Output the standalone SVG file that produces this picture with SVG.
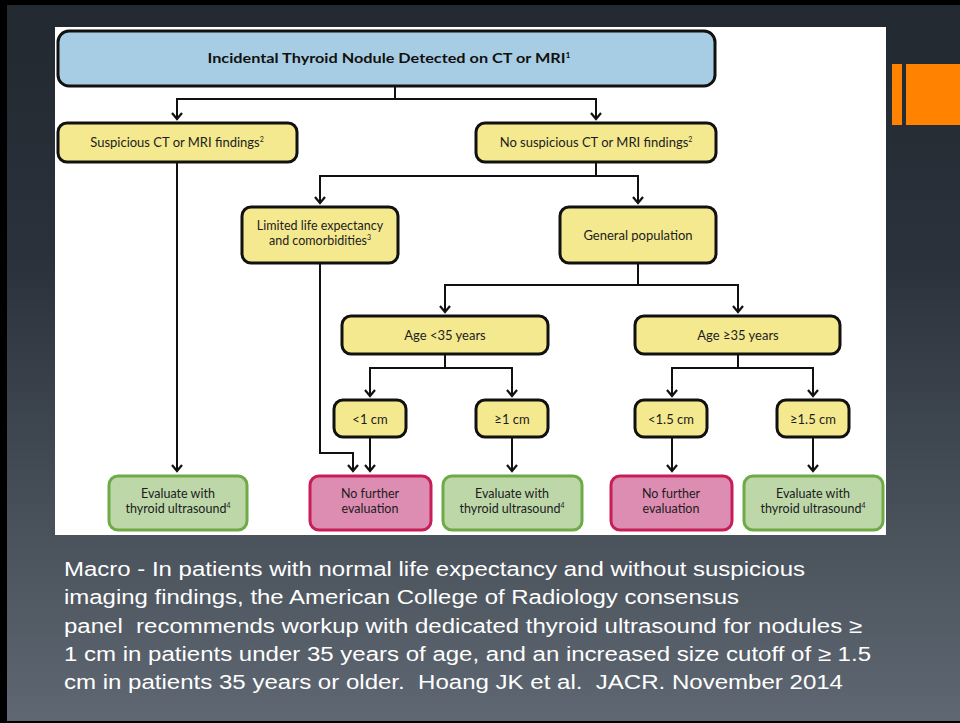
<svg xmlns="http://www.w3.org/2000/svg" width="960" height="723" viewBox="0 0 960 723">
  <defs>
    <linearGradient id="slideBg" x1="0" y1="0" x2="0" y2="1">
      <stop offset="0" stop-color="#222931"/>
      <stop offset="0.35" stop-color="#2a313a"/>
      <stop offset="1" stop-color="#5f6872"/>
    </linearGradient>
    <marker id="chev" markerUnits="userSpaceOnUse" markerWidth="14" markerHeight="10" viewBox="-7 -8 14 10" refX="0" refY="0" orient="auto-start-reverse" overflow="visible">
      <path d="M-5,-6 L0,0 L5,-6" transform="rotate(-90)" fill="none" stroke="#111" stroke-width="2.2" stroke-linejoin="miter"/>
    </marker>
    <style>
      .box { stroke: #111; stroke-width: 3; }
      .blue { fill: #a7cde4; }
      .yellow { fill: #f4e98f; }
      .green { fill: #bdd7a9; stroke: #6eaa45; stroke-width: 3; }
      .pink { fill: #dc8db1; stroke: #c81e58; stroke-width: 3; }
      .lbl { font-family: Lato, "Open Sans", "DejaVu Sans", sans-serif; font-size: 13px; fill: #1c1c1c; text-anchor: middle; }
      .two { font-size: 12.5px; }
      .ttl { font-family: Lato, "Open Sans", "DejaVu Sans", sans-serif; font-size: 13.5px; font-weight: bold; fill: #111; text-anchor: middle; }
      .sup { font-size: 7px; }
      .conn { fill: none; stroke: #111; stroke-width: 2; }
      .note { font-family: "Liberation Sans", Arial, sans-serif; font-size: 20px; fill: #ffffff; }
    </style>
  </defs>

  <!-- slide frame and background -->
  <rect x="0" y="0" width="960" height="723" fill="#000"/>
  <rect x="7" y="5" width="953" height="716" fill="url(#slideBg)"/>

  <!-- orange accent -->
  <rect x="892" y="64" width="10" height="61" fill="#ff8300"/>
  <rect x="906" y="64" width="54" height="61" fill="#ff8300"/>

  <!-- white chart panel -->
  <rect x="55" y="27" width="831" height="508" fill="#ffffff"/>

  <!-- connectors -->
  <g id="connectors" class="conn">
    <path d="M395,86 V99"/>
    <path d="M395,99 H177 V119" marker-end="url(#chev)"/>
    <path d="M395,99 H596 V119" marker-end="url(#chev)"/>
    <path d="M177,162 V471" marker-end="url(#chev)"/>
    <path d="M596,162 V176"/>
    <path d="M596,176 H320 V203" marker-end="url(#chev)"/>
    <path d="M596,176 H638 V203" marker-end="url(#chev)"/>
    <path d="M320,263 V453 H353 V471" marker-end="url(#chev)"/>
    <path d="M638,263 V285"/>
    <path d="M638,285 H445 V312" marker-end="url(#chev)"/>
    <path d="M638,285 H738 V312" marker-end="url(#chev)"/>
    <path d="M445,354 V368"/>
    <path d="M445,368 H370 V396" marker-end="url(#chev)"/>
    <path d="M445,368 H512 V396" marker-end="url(#chev)"/>
    <path d="M738,354 V368"/>
    <path d="M738,368 H672 V396" marker-end="url(#chev)"/>
    <path d="M738,368 H813 V396" marker-end="url(#chev)"/>
    <path d="M370,437 V471" marker-end="url(#chev)"/>
    <path d="M512,437 V471" marker-end="url(#chev)"/>
    <path d="M672,437 V471" marker-end="url(#chev)"/>
    <path d="M813,437 V471" marker-end="url(#chev)"/>
  </g>

  <!-- nodes -->
  <g id="n-incidental">
    <rect class="box blue" x="58" y="31" width="657" height="55" rx="11"/>
    <text class="ttl" x="389" y="63" textLength="363" lengthAdjust="spacingAndGlyphs">Incidental Thyroid Nodule Detected on CT or MRI<tspan class="sup" dy="-5">1</tspan></text>
  </g>
  <g id="n-suspicious">
    <rect class="box yellow" x="58" y="123" width="239" height="39" rx="9"/>
    <text class="lbl" x="177" y="147">Suspicious CT or MRI findings<tspan class="sup" dy="-5">2</tspan></text>
  </g>
  <g id="n-nosuspicious">
    <rect class="box yellow" x="476" y="123" width="240" height="39" rx="9"/>
    <text class="lbl" x="596" y="147">No suspicious CT or MRI findings<tspan class="sup" dy="-5">2</tspan></text>
  </g>
  <g id="n-limited">
    <rect class="box yellow" x="242" y="207" width="156" height="56" rx="9"/>
    <text class="lbl two" x="320" y="230">Limited life expectancy</text>
    <text class="lbl two" x="320" y="245">and comorbidities<tspan class="sup" dy="-5">3</tspan></text>
  </g>
  <g id="n-general">
    <rect class="box yellow" x="560" y="207" width="156" height="56" rx="9"/>
    <text class="lbl" x="638" y="240">General population</text>
  </g>
  <g id="n-age-lt35">
    <rect class="box yellow" x="342" y="316" width="206" height="38" rx="9"/>
    <text class="lbl" x="445" y="340">Age &lt;35 years</text>
  </g>
  <g id="n-age-ge35">
    <rect class="box yellow" x="635" y="316" width="205" height="38" rx="9"/>
    <text class="lbl" x="738" y="340">Age ≥35 years</text>
  </g>
  <g id="n-lt1">
    <rect class="box yellow" x="334" y="400" width="72" height="37" rx="9"/>
    <text class="lbl" x="370" y="424">&lt;1 cm</text>
  </g>
  <g id="n-ge1">
    <rect class="box yellow" x="476" y="400" width="72" height="37" rx="9"/>
    <text class="lbl" x="512" y="424">≥1 cm</text>
  </g>
  <g id="n-lt15">
    <rect class="box yellow" x="635" y="400" width="72" height="37" rx="9"/>
    <text class="lbl" x="671" y="424">&lt;1.5 cm</text>
  </g>
  <g id="n-ge15">
    <rect class="box yellow" x="777" y="400" width="72" height="37" rx="9"/>
    <text class="lbl" x="813" y="424">≥1.5 cm</text>
  </g>
  <g id="n-eval-1">
    <rect class="green" x="109" y="476" width="138" height="54" rx="9"/>
    <text class="lbl two" x="178" y="498">Evaluate with</text>
    <text class="lbl two" x="178" y="513">thyroid ultrasound<tspan class="sup" dy="-5">4</tspan></text>
  </g>
  <g id="n-nofurther-1">
    <rect class="pink" x="310" y="476" width="121" height="54" rx="9"/>
    <text class="lbl two" x="370" y="498">No further</text>
    <text class="lbl two" x="370" y="513">evaluation</text>
  </g>
  <g id="n-eval-2">
    <rect class="green" x="443" y="476" width="139" height="54" rx="9"/>
    <text class="lbl two" x="512" y="498">Evaluate with</text>
    <text class="lbl two" x="512" y="513">thyroid ultrasound<tspan class="sup" dy="-5">4</tspan></text>
  </g>
  <g id="n-nofurther-2">
    <rect class="pink" x="611" y="476" width="121" height="54" rx="9"/>
    <text class="lbl two" x="671" y="498">No further</text>
    <text class="lbl two" x="671" y="513">evaluation</text>
  </g>
  <g id="n-eval-3">
    <rect class="green" x="744" y="476" width="139" height="54" rx="9"/>
    <text class="lbl two" x="813" y="498">Evaluate with</text>
    <text class="lbl two" x="813" y="513">thyroid ultrasound<tspan class="sup" dy="-5">4</tspan></text>
  </g>

  <!-- caption -->
  <g id="caption" class="note">
    <text x="64" y="576" textLength="741" lengthAdjust="spacingAndGlyphs">Macro - In patients with normal life expectancy and without suspicious</text>
    <text x="64" y="604" textLength="675" lengthAdjust="spacingAndGlyphs">imaging findings, the American College of Radiology consensus</text>
    <text x="64" y="633" textLength="798" lengthAdjust="spacingAndGlyphs">panel&#160; recommends workup with dedicated thyroid ultrasound for nodules ≥</text>
    <text x="64" y="661" textLength="807" lengthAdjust="spacingAndGlyphs">1 cm in patients under 35 years of age, and an increased size cutoff of ≥ 1.5</text>
    <text x="64" y="689" textLength="779" lengthAdjust="spacingAndGlyphs">cm in patients 35 years or older.&#160; Hoang JK et al.&#160; JACR. November 2014</text>
  </g>
</svg>
